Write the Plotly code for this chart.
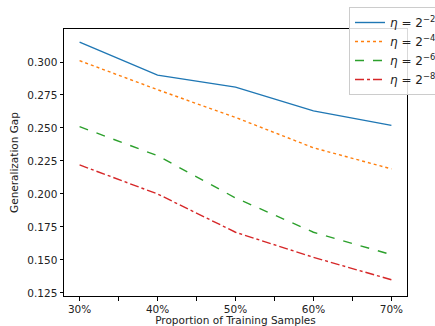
import plotly.graph_objects as go

x_vals = [30, 40, 50, 60, 70]
series_names = ["<i>η</i> = 2<sup>−2</sup>", "<i>η</i> = 2<sup>−4</sup>",
                "<i>η</i> = 2<sup>−6</sup>", "<i>η</i> = 2<sup>−8</sup>"]
eta_m2 = [0.315, 0.290, 0.281, 0.263, 0.252]
eta_m4 = [0.301, 0.279, 0.258, 0.235, 0.219]
eta_m6 = [0.251, 0.229, 0.197, 0.171, 0.154]
eta_m8 = [0.222, 0.200, 0.171, 0.152, 0.135]
x_tick_vals = [30, 35, 40, 45, 50, 55, 60, 65, 70]
x_tick_text = ["30%", "", "40%", "", "50%", "", "60%", "", "70%"]
y_tick_vals = [0.125, 0.150, 0.175, 0.200, 0.225, 0.250, 0.275, 0.300]

colors = ["#1f77b4", "#ff7f0e", "#2ca02c", "#d62728"]
dashes = ["solid", "dot", "dash", "dashdot"]

fig = go.Figure()
for name, ys, c, d in zip(series_names, [eta_m2, eta_m4, eta_m6, eta_m8], colors, dashes):
    fig.add_trace(go.Scatter(x=x_vals, y=ys, mode="lines", name=name,
                             line=dict(color=c, width=1.4, dash=d)))

axis_common = dict(showline=True, linecolor="black", linewidth=1, mirror=True,
                   ticks="outside", ticklen=3.5, tickcolor="black", showgrid=False,
                   zeroline=False, tickfont=dict(size=10.5, color="#222"))

# paper area: x 64..435 (371 px), y 0..296 (296 px); plot box x 64..407, y 29..296
fig.update_xaxes(range=[28, 72], tickvals=x_tick_vals, ticktext=x_tick_text,
                 domain=[0, 343 / 371],
                 title=dict(text="Proportion of Training Samples", font=dict(size=10.5, color="#222"), standoff=4),
                 **axis_common)
fig.update_yaxes(range=[0.1227, 0.325], tickvals=y_tick_vals, tickformat=".3f",
                 domain=[0, 267 / 296],
                 title=dict(text="Generalization Gap", font=dict(size=10.5, color="#222"), standoff=6),
                 **axis_common)

fig.update_layout(
    width=435, height=326,
    margin=dict(l=64, r=0, t=0, b=30, autoexpand=False),
    plot_bgcolor="white", paper_bgcolor="white",
    font=dict(family="DejaVu Sans", size=10.5, color="#222"),
    legend=dict(x=(349 - 64) / 371, y=(296 - 7) / 296,
                xanchor="left", yanchor="top",
                bgcolor="rgba(255,255,255,0.85)", bordercolor="#cccccc", borderwidth=1,
                font=dict(size=12), itemwidth=30, tracegroupgap=0),
    showlegend=True,
)
fig.write_html("out.html")
